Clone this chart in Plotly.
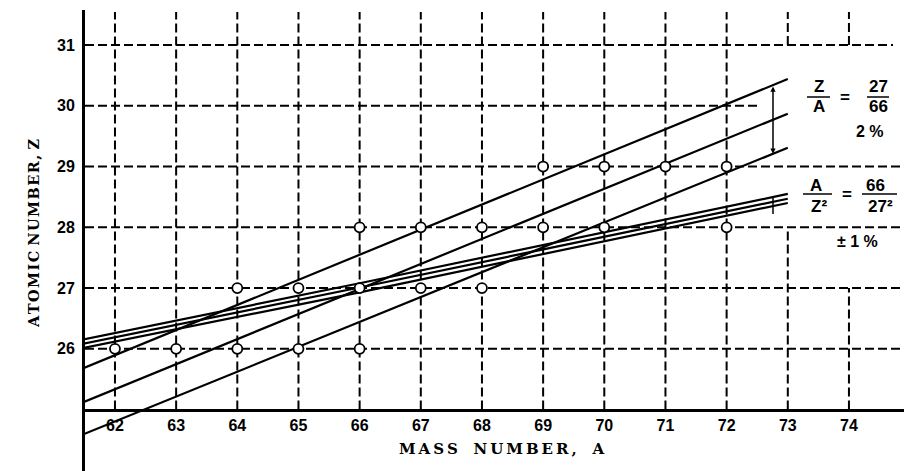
import numpy as np
import plotly.graph_objects as go

# ---------------- data ----------------
mass_ticks = [62, 63, 64, 65, 66, 67, 68, 69, 70, 71, 72, 73, 74]
z_ticks = [26, 27, 28, 29, 30, 31]

# observed nuclides (open circles)
nuc_A = [62, 63, 64, 65, 66,
         64, 65, 66, 67, 68,
         66, 67, 68, 69, 70, 72,
         69, 70, 71, 72]
nuc_Z = [26, 26, 26, 26, 26,
         27, 27, 27, 27, 27,
         28, 28, 28, 28, 28, 28,
         29, 29, 29, 29]

# Z/A = 27/66 line with +-2 % band (straight lines)
za_A = [61.5, 73.0]
za_upper = [25.69, 30.44]
za_mid = [25.13, 29.87]
za_lower = [24.60, 29.31]

# A/Z^2 = 66/27^2 curve with +-1 % band
az_A = [61.5, 66.0, 73.0]
az_upper = [26.16, 27.08, 28.55]
az_mid = [26.09, 27.01, 28.47]
az_lower = [26.02, 26.93, 28.40]

# ---------------- layout geometry ----------------
W, H = 904, 471
ML, MR, MT, MB = 85, 0, 10, 0
XR = [61.51, 74.9]
YR = [23.99, 31.576]
PW, PH = W - ML - MR, H - MT - MB


def pxA(px):
    return XR[0] + (px - ML) / PW * (XR[1] - XR[0])


def pyZ(py):
    return YR[1] - (py - MT) / PH * (YR[1] - YR[0])


z_top = pyZ(12)
a_right = XR[1]
x_axis_Z = 25.0

fig = go.Figure()

line_style = dict(color="black", width=2.2)
for ys in (za_upper, za_mid, za_lower):
    fig.add_trace(go.Scatter(x=za_A, y=ys, mode="lines", line=line_style,
                             hoverinfo="skip", showlegend=False))
for ys in (az_upper, az_mid, az_lower):
    fig.add_trace(go.Scatter(x=az_A, y=ys, mode="lines",
                             line=dict(color="black", width=2.2, shape="spline"),
                             hoverinfo="skip", showlegend=False))

fig.add_trace(go.Scatter(
    x=nuc_A, y=nuc_Z, mode="markers",
    marker=dict(symbol="circle", size=10, color="white",
                line=dict(color="black", width=1.8)),
    showlegend=False))

# ---------------- dashed grid (with the original's gaps) ----------------
dash = "9px,4px"
shapes = []
for a in mass_ticks:
    if a == 73:
        segs = [(x_axis_Z, 28), (31, z_top)]
    elif a == 74:
        segs = [(x_axis_Z, 27), (31, z_top)]
    else:
        segs = [(x_axis_Z, z_top)]
    for y0, y1 in segs:
        shapes.append(dict(type="line", xref="x", yref="y", x0=a, x1=a, y0=y0, y1=y1,
                           line=dict(color="black", width=2, dash=dash), layer="below"))
for z in z_ticks:
    if z == 30:
        x1 = pxA(758)
    elif z == 31:
        x1 = pxA(893)
    else:
        x1 = a_right
    shapes.append(dict(type="line", xref="x", yref="y", x0=XR[0], x1=x1, y0=z, y1=z,
                       line=dict(color="black", width=2, dash=dash), layer="below"))

# fraction bars
for (xa, xb, yy) in [(807, 830, 97), (867, 889, 97), (803, 832, 194), (862, 897, 194)]:
    shapes.append(dict(type="line", xref="x", yref="y", x0=pxA(xa), x1=pxA(xb),
                       y0=pyZ(yy), y1=pyZ(yy), line=dict(color="black", width=1.5)))

# small bracket for the A/Z^2 band
arrow_A = pxA(773)
shapes.append(dict(type="line", xref="x", yref="y", x0=arrow_A, x1=arrow_A,
                   y0=float(np.interp(arrow_A, az_A, az_upper)),
                   y1=float(np.interp(arrow_A, az_A, az_lower)) - 0.13,
                   line=dict(color="black", width=1.5)))

annotations = []

sans = "Liberation Sans Narrow, Liberation Sans, Arial"
serif = "DejaVu Serif, Liberation Serif, serif"


def txt(px, py, s, size=15, family=sans):
    annotations.append(dict(x=pxA(px), y=pyZ(py), xref="x", yref="y", text=s,
                            showarrow=False, xanchor="center", yanchor="middle",
                            font=dict(family=family, size=size, color="black", weight="bold")))


txt(819, 86, "Z", 17)
txt(819, 106, "A", 17)
txt(845, 97, "=", 17)
txt(878, 86, "27", 17)
txt(878, 106, "66", 17)
txt(870, 131, "2 %", 16)

txt(816, 185, "A", 17)
txt(819, 206, "Z²", 17)
txt(847, 194, "=", 17)
txt(875, 185, "66", 17)
txt(880, 206, "27²", 17)
txt(857, 241, "± 1 %", 16)

# double arrow for the Z/A band
annotations.append(dict(
    x=arrow_A, y=float(np.interp(arrow_A, za_A, za_lower)),
    ax=arrow_A, ay=float(np.interp(arrow_A, za_A, za_upper)),
    xref="x", yref="y", axref="x", ayref="y", text="",
    showarrow=True, arrowhead=2, startarrowhead=2, arrowside="end+start",
    arrowsize=0.7, startarrowsize=0.7, arrowwidth=1.5, arrowcolor="black"))

# axis titles
ts = "\u2009"
hs = "\u200a"
x_title = "   ".join(ts.join(w) for w in ["MASS", "NUMBER,", "A"])
y_title = " ".join(hs.join(w) for w in ["ATOMIC", "NUMBER,", "Z"])
annotations.append(dict(x=pxA(501), y=pyZ(449), xref="x", yref="y", text=x_title,
                        showarrow=False, xanchor="center", yanchor="middle",
                        font=dict(family=serif, size=15, color="black", weight="bold")))
annotations.append(dict(x=(33 - ML) / PW, y=(H - 234 - MB) / PH, xref="paper", yref="paper",
                        text=y_title, textangle=-90,
                        showarrow=False, xanchor="center", yanchor="middle",
                        font=dict(family=serif, size=14.5, color="black", weight="bold")))

fig.update_layout(
    width=W, height=H,
    margin=dict(l=ML, r=MR, t=MT, b=MB, pad=0, autoexpand=False),
    paper_bgcolor="white", plot_bgcolor="white",
    shapes=shapes, annotations=annotations,
    showlegend=False,
    xaxis=dict(range=XR, tickvals=mass_ticks, ticktext=[str(v) for v in mass_ticks],
               showgrid=False, zeroline=False, showline=True, linecolor="black",
               linewidth=2.5, ticks="", anchor="free", automargin=False,
               position=(x_axis_Z - YR[0]) / (YR[1] - YR[0]),
               tickfont=dict(family=sans, size=16, color="black", weight="bold")),
    yaxis=dict(range=YR, tickvals=z_ticks, ticktext=[str(v) for v in z_ticks],
               showgrid=False, zeroline=False, showline=True, linecolor="black",
               linewidth=3, ticks="", ticklabelstandoff=4, automargin=False,
               tickfont=dict(family=sans, size=16, color="black", weight="bold")),
)

fig.write_html("out.html", config={"displayModeBar": False},
               post_script="document.body.style.margin='0px';document.body.style.overflow='hidden';")
